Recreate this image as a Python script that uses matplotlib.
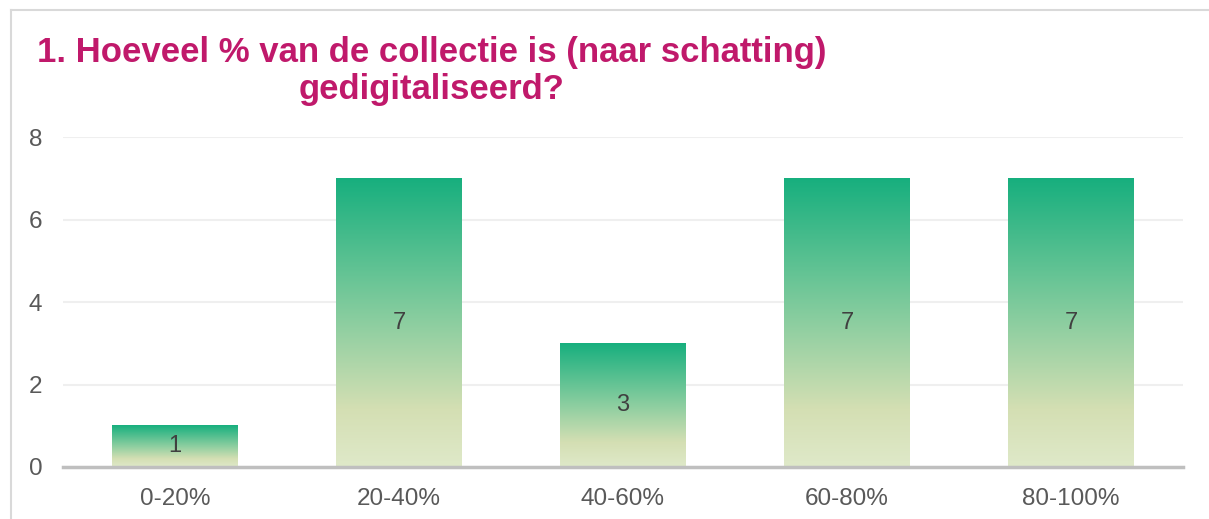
import numpy as np
import matplotlib
matplotlib.use("Agg")
import matplotlib.pyplot as plt
from matplotlib.colors import LinearSegmentedColormap
from matplotlib.lines import Line2D

categories = ["0-20%", "20-40%", "40-60%", "60-80%", "80-100%"]
counts = [1, 7, 3, 7, 7]
title = "1. Hoeveel % van de collectie is (naar schatting)\ngedigitaliseerd?"

plt.rcParams["font.family"] = ["Liberation Sans", "DejaVu Sans"]

# bar fill: dark green at top fading to pale khaki at the bottom
grad = LinearSegmentedColormap.from_list(
    "bar", [(0.0, "#17AF7E"), (0.5, "#8CCEA0"), (0.8, "#D4DFB3"), (1.0, "#DFE9C9")])

fig = plt.figure(figsize=(12.09, 5.19), dpi=100)
ax = fig.add_axes([0.0521, 0.1002, 0.9264, 0.6358])

width = 0.56
x = np.arange(len(categories))
col = np.linspace(0, 1, 256).reshape(-1, 1)
for xi, v in zip(x, counts):
    ax.imshow(col, cmap=grad, aspect="auto", extent=(xi - width / 2, xi + width / 2, 0, v),
              origin="upper", zorder=2, interpolation="bilinear")
    ax.text(xi, v / 2, str(v), ha="center", va="center", fontsize=17, color="#404040", zorder=3)

ax.set_xlim(-0.5, 4.5)
ax.set_ylim(0, 8)
ax.set_yticks([0, 2, 4, 6, 8])
ax.set_xticks(x)
ax.set_xticklabels(categories)
ax.tick_params(axis="both", length=0, labelsize=17.5, labelcolor="#595959")
ax.tick_params(axis="y", pad=15)
ax.tick_params(axis="x", pad=15)
ax.grid(axis="y", color="#EFEFEF", linewidth=1.5, zorder=0)
ax.set_axisbelow(True)
for s in ["top", "right", "left"]:
    ax.spines[s].set_visible(False)
ax.spines["bottom"].set_color("#BFBFBF")
ax.spines["bottom"].set_linewidth(2.5)
ax.spines["bottom"].set_zorder(4)

fig.text(0.357, 1 - 36 / 519, title, ha="center", va="top", multialignment="center",
         fontsize=25, fontweight="bold", color="#C0196B", linespacing=1.15)

# chart-area frame, only top and left edge visible
fig.add_artist(Line2D([11 / 1209, 11 / 1209], [0, 1 - 10 / 519], transform=fig.transFigure,
                      color="#D9D9D9", linewidth=1.5))
fig.add_artist(Line2D([11 / 1209, 1], [1 - 10 / 519, 1 - 10 / 519], transform=fig.transFigure,
                      color="#D9D9D9", linewidth=1.5))

fig.savefig("out.png", dpi=100)
